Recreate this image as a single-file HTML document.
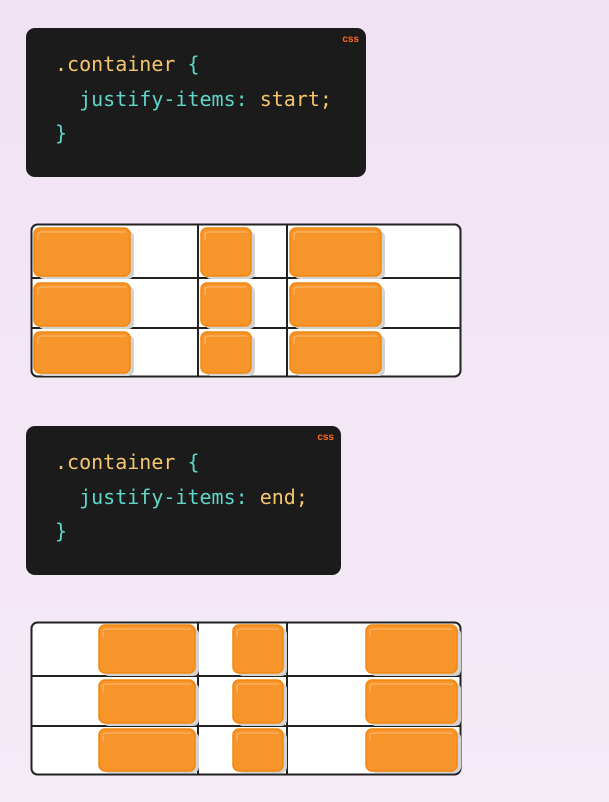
<!DOCTYPE html>
<html><head><meta charset="utf-8">
<style>
html,body{margin:0;padding:0}
body{width:609px;height:802px;position:relative;overflow:hidden;background:linear-gradient(180deg,#f1e2f4 0%,#f3e6f5 50%,#f5ebf7 100%);font-family:"DejaVu Sans Mono","Liberation Mono",monospace}
.code{position:absolute;left:26px;background:#1b1b1b;border-radius:9px;height:149px}
.code .t{position:absolute;left:29px;font-size:20px;line-height:34.5px;top:19px;white-space:pre;color:#f5c66b}
.tl{color:#5ed6c9}
.css{position:absolute;right:7px;top:6px;font-family:"Liberation Sans",sans-serif;font-weight:bold;font-size:10px;color:#ff6a1a}
svg{position:absolute;left:0;top:0}
</style></head><body>
<div class="code" style="top:28px;width:340px"><span class="css">css</span>
<div class="t">.container <span class="tl">{</span>
  <span class="tl">justify-items:</span> start;
<span class="tl">}</span></div></div>
<div class="code" style="top:426px;width:315px"><span class="css">css</span>
<div class="t">.container <span class="tl">{</span>
  <span class="tl">justify-items:</span> end;
<span class="tl">}</span></div></div>
<svg width="609" height="802" viewBox="0 0 609 802">
<defs>
<g id="grid">
<rect x="31.5" y="0.5" width="429" height="152" rx="6" fill="#fff" stroke="#222" stroke-width="2"/>
<line x1="198" y1="0" x2="198" y2="152" stroke="#222" stroke-width="2"/>
<line x1="287" y1="0" x2="287" y2="152" stroke="#222" stroke-width="2"/>
<line x1="31" y1="54" x2="460" y2="54" stroke="#222" stroke-width="2"/>
<line x1="31" y1="104" x2="460" y2="104" stroke="#222" stroke-width="2"/>
</g>
</defs>
<use href="#grid" x="0" y="224"/>
<use href="#grid" x="0" y="622"/>
<g id="boxes">
</g>
<script>/* none */</script>
<!-- boxes grid 1 -->
<g fill="#d2d2d2">
<rect x="38" y="231" width="96" height="48" rx="6"/><rect x="205" y="231" width="50" height="48" rx="6"/><rect x="294" y="231" width="91" height="48" rx="6"/>
<rect x="38" y="286" width="96" height="43" rx="6"/><rect x="205" y="286" width="50" height="43" rx="6"/><rect x="294" y="286" width="91" height="43" rx="6"/>
<rect x="38" y="335" width="96" height="41" rx="6"/><rect x="205" y="335" width="50" height="41" rx="6"/><rect x="294" y="335" width="91" height="41" rx="6"/>
<rect x="103" y="628" width="96" height="48" rx="6"/><rect x="237" y="628" width="50" height="48" rx="6"/><rect x="370" y="628" width="91" height="48" rx="6"/>
<rect x="103" y="683" width="96" height="43" rx="6"/><rect x="237" y="683" width="50" height="43" rx="6"/><rect x="370" y="683" width="91" height="43" rx="6"/>
<rect x="103" y="732" width="96" height="41" rx="6"/><rect x="237" y="732" width="50" height="41" rx="6"/><rect x="370" y="732" width="91" height="41" rx="6"/>
</g>
<g fill="#f7952b" stroke="#f2870f" stroke-width="1.5">
<rect x="34" y="228" width="96" height="48" rx="6"/><rect x="201" y="228" width="50" height="48" rx="6"/><rect x="290" y="228" width="91" height="48" rx="6"/>
<rect x="34" y="283" width="96" height="43" rx="6"/><rect x="201" y="283" width="50" height="43" rx="6"/><rect x="290" y="283" width="91" height="43" rx="6"/>
<rect x="34" y="332" width="96" height="41" rx="6"/><rect x="201" y="332" width="50" height="41" rx="6"/><rect x="290" y="332" width="91" height="41" rx="6"/>
<rect x="99" y="625" width="96" height="48" rx="6"/><rect x="233" y="625" width="50" height="48" rx="6"/><rect x="366" y="625" width="91" height="48" rx="6"/>
<rect x="99" y="680" width="96" height="43" rx="6"/><rect x="233" y="680" width="50" height="43" rx="6"/><rect x="366" y="680" width="91" height="43" rx="6"/>
<rect x="99" y="729" width="96" height="42" rx="6"/><rect x="233" y="729" width="50" height="42" rx="6"/><rect x="366" y="729" width="91" height="42" rx="6"/>
</g>
<g fill="none" stroke="#fbb668" stroke-width="1.5" opacity="0.8">
<path d="M38 240 V234 Q38 232 42 232 H126"/><path d="M205 240 V234 Q205 232 209 232 H247"/><path d="M294 240 V234 Q294 232 298 232 H377"/>
<path d="M38 295 V289 Q38 287 42 287 H126"/><path d="M205 295 V289 Q205 287 209 287 H247"/><path d="M294 295 V289 Q294 287 298 287 H377"/>
<path d="M38 344 V338 Q38 336 42 336 H126"/><path d="M205 344 V338 Q205 336 209 336 H247"/><path d="M294 344 V338 Q294 336 298 336 H377"/>
<path d="M103 637 V631 Q103 629 107 629 H191"/><path d="M237 637 V631 Q237 629 241 629 H279"/><path d="M370 637 V631 Q370 629 374 629 H453"/>
<path d="M103 692 V686 Q103 684 107 684 H191"/><path d="M237 692 V686 Q237 684 241 684 H279"/><path d="M370 692 V686 Q370 684 374 684 H453"/>
<path d="M103 741 V735 Q103 733 107 733 H191"/><path d="M237 741 V735 Q237 733 241 733 H279"/><path d="M370 741 V735 Q370 733 374 733 H453"/>
</g>
</svg>
</body></html>
